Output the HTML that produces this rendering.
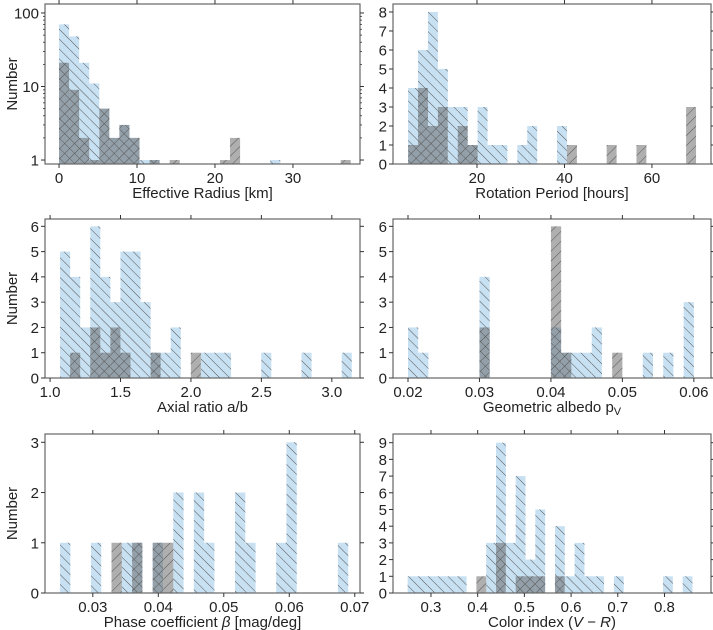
<!DOCTYPE html>
<html><head><meta charset="utf-8">
<style>
html,body{margin:0;padding:0;background:#fff;}
svg{display:block;font-family:"Liberation Sans","DejaVu Sans",sans-serif;}
</style></head>
<body>
<svg id="fig" width="713" height="630" viewBox="0 0 713 630" xmlns="http://www.w3.org/2000/svg">
<defs>
<pattern id="hb" patternUnits="userSpaceOnUse" width="7" height="7" patternTransform="rotate(-45)"><line x1="0" y1="0" x2="0" y2="7" stroke="#555" stroke-width="1"/></pattern>
<pattern id="hg" patternUnits="userSpaceOnUse" width="7" height="7" patternTransform="rotate(45)"><line x1="0" y1="0" x2="0" y2="7" stroke="#555" stroke-width="1"/></pattern>
</defs>
</svg>
<script>
// Panel 1: Effective Radius (log y)
const radiusBlue = [70,48,21,11,5,2,3,2,1,1,0,0,0,0,0,0,0,0,0,0,0,1,0,0,0,0,0,0,0];
const radiusGray = [21,9,2,1,5,2,3,2,0,1,0,1,0,0,0,0,1,2,0,0,0,0,0,0,0,0,0,0,1];
const radiusXTicks = [0,10,20,30];
const radiusYTicks = [1,10,100];
// Panel 2: Rotation Period
const periodBlue = [4,6,8,5,3,3,1,3,1,1,0,1,2,0,0,2,0,0,0,0,0,0,0,0,0,0,0,0,0];
const periodGray = [1,4,2,3,0,2,1,0,0,0,0,0,0,0,0,0,1,0,0,0,1,0,0,1,0,0,0,0,3];
const periodXTicks = [20,40,60];
const periodYTicks = [0,1,2,3,4,5,6,7,8];
// Panel 3: Axial ratio
const axialBlue = [5,4,2,6,4,3,5,5,3,1,1,2,0,0,1,1,1,0,0,0,1,0,0,0,1,0,0,0,1];
const axialGray = [0,1,0,2,1,2,1,0,0,1,0,0,0,1,0,0,0,0,0,0,0,0,0,0,0,0,0,0,0];
const axialXTicks = [1.0,1.5,2.0,2.5,3.0];
const axialYTicks = [0,1,2,3,4,5,6];
// Panel 4: Geometric albedo
const albedoBlue = [2,1,0,0,0,0,0,4,0,0,0,0,0,0,2,1,1,1,2,0,0,0,0,1,0,1,0,3];
const albedoGray = [0,0,0,0,0,0,0,2,0,0,0,0,0,0,6,1,0,0,0,0,1,0,0,0,0,0,0,0];
const albedoXTicks = [0.02,0.03,0.04,0.05,0.06];
const albedoYTicks = [0,1,2,3,4,5,6];
// Panel 5: Phase coefficient
const phaseBlue = [1,0,0,1,0,0,1,1,0,1,0,2,0,2,1,0,0,2,1,0,0,1,3,0,0,0,0,1];
const phaseGray = [0,0,0,0,0,1,0,1,0,1,1,0,0,0,0,0,0,0,0,0,0,0,0,0,0,0,0,0];
const phaseXTicks = [0.03,0.04,0.05,0.06,0.07];
const phaseYTicks = [0,1,2,3];
// Panel 6: Color index
const colorBlue = [1,1,1,1,1,1,0,0,3,9,3,7,2,5,0,4,1,3,1,1,0,1,0,0,0,0,1,0,1];
const colorGray = [0,0,0,0,0,0,0,1,0,3,0,1,1,1,0,1,0,0,0,0,0,0,0,0,0,0,0,0,0];
const colorXTicks = [0.3,0.4,0.5,0.6,0.7,0.8];
const colorYTicks = [0,1,2,3,4,5,6,7,8,9];

const NS = "http://www.w3.org/2000/svg";
const svg = document.getElementById('fig');
function mk(tag, attrs, parent){
  const e = document.createElementNS(NS, tag);
  for (const k in attrs) e.setAttribute(k, attrs[k]);
  (parent||svg).appendChild(e);
  return e;
}

const panels = [
 {name:'effective-radius', box:[45,4,360,164], xr:[-1.8,38.6], yr:[-0.054,2.122], log:true, lo:0, w:1.29,
  blue:radiusBlue, gray:radiusGray, xt:radiusXTicks, yt:radiusYTicks, fmt:v=>String(v), xl:'Effective Radius [km]', yl:true},
 {name:'rotation-period', box:[393,4,711,164], xr:[0.8,73.5], yr:[0,8.42], lo:4.25, w:2.27,
  blue:periodBlue, gray:periodGray, xt:periodXTicks, yt:periodYTicks, fmt:v=>String(v), xl:'Rotation Period [hours]'},
 {name:'axial-ratio', box:[45,219,360,378], xr:[0.964,3.2], yr:[0,6.29], lo:1.071, w:0.0714,
  blue:axialBlue, gray:axialGray, xt:axialXTicks, yt:axialYTicks, fmt:v=>v.toFixed(1), xl:'Axial ratio a/b', yl:true},
 {name:'geometric-albedo', box:[393,219,711,378], xr:[0.0179,0.0624], yr:[0,6.29], lo:0.02, w:0.04/28,
  blue:albedoBlue, gray:albedoGray, xt:albedoXTicks, yt:albedoYTicks, fmt:v=>v.toFixed(2), xl:'Geometric albedo p<tspan font-size="11" dy="3">V</tspan>'},
 {name:'phase-coefficient', box:[45,434,360,593], xr:[0.0227,0.0708], yr:[0,3.165], lo:0.025, w:0.044/28,
  blue:phaseBlue, gray:phaseGray, xt:phaseXTicks, yt:phaseYTicks, fmt:v=>v.toFixed(2), xl:'Phase coefficient <tspan font-style="italic">β</tspan> [mag/deg]', yl:true},
 {name:'color-index', box:[393,434,711,593], xr:[0.2187,0.8996], yr:[0,9.52], lo:0.25, w:0.61/29,
  blue:colorBlue, gray:colorGray, xt:colorXTicks, yt:colorYTicks, fmt:v=>v.toFixed(1), xl:'Color index (<tspan font-style="italic">V</tspan> − <tspan font-style="italic">R</tspan>)'}
];

panels.forEach(p=>{
  const [x0,y0,x1,y1] = p.box;
  const g = mk('g',{});
  
  
  const sx = v => x0 + (v-p.xr[0])/(p.xr[1]-p.xr[0])*(x1-x0);
  const sy = v => {
    const t = p.log ? Math.log10(v) : v;
    return y1 - (t-p.yr[0])/(p.yr[1]-p.yr[0])*(y1-y0);
  };
  const base = y1;
  [['blue',p.blue,'rgba(180,213,237,0.75)','url(#hb)'],['gray',p.gray,'rgba(95,95,95,0.5)','url(#hg)']].forEach(([nm,arr,fill,pat])=>{
    arr.forEach((c,i)=>{
      if(!c) return;
      const xa = sx(p.lo + i*p.w), xb = sx(p.lo + (i+1)*p.w), yt = sy(c);
      const r = mk('rect',{x:xa, y:yt, width:xb-xa, height:base-yt, fill:fill}, g);
      
      
      const h = mk('rect',{x:xa, y:yt, width:xb-xa, height:base-yt, fill:pat}, g);
      
      
    });
  });
  const frame = mk('rect',{x:x0,y:y0,width:x1-x0,height:y1-y0,fill:'none',stroke:'#666','stroke-width':1.2}, g);
  
  
  p.xt.forEach(v=>{
    const x = sx(v);
    mk('line',{x1:x,y1:y1,x2:x,y2:y1+4,stroke:'#333','stroke-width':1}, g);
    mk('line',{x1:x,y1:y0,x2:x,y2:y0-4,stroke:'#333','stroke-width':1}, g);
    const t = mk('text',{x:x,y:y1+19,'text-anchor':'middle','font-size':15,fill:'#222'}, g);
    t.textContent = p.fmt(v);
    
    
  });
  p.yt.forEach(v=>{
    const y = sy(v);
    mk('line',{x1:x0,y1:y,x2:x0-4,y2:y,stroke:'#333','stroke-width':1}, g);
    mk('line',{x1:x1,y1:y,x2:x1+4,y2:y,stroke:'#333','stroke-width':1}, g);
    const t = mk('text',{x:x0-6,y:y+5.5,'text-anchor':'end','font-size':15,fill:'#222'}, g);
    t.textContent = String(v);
    
    
  });
  if(p.log){
    [1,10].forEach(d=>{ for(let k=2;k<10;k++){ const v=d*k; if(Math.log10(v)>p.yr[1]) continue; const y=sy(v);
      mk('line',{x1:x0,y1:y,x2:x0-2,y2:y,stroke:'#333','stroke-width':0.8}, g);
      mk('line',{x1:x1,y1:y,x2:x1+2,y2:y,stroke:'#333','stroke-width':0.8}, g);} });
  }
  const xl = mk('text',{x:(x0+x1)/2,y:y1+34,'text-anchor':'middle','font-size':15,fill:'#222'}, g);
  xl.innerHTML = p.xl;
  
  
  if(p.yl){
    const cy=(y0+y1)/2;
    const yl = mk('text',{x:17,y:cy,'text-anchor':'middle','font-size':15,fill:'#222',transform:`rotate(-90 17 ${cy})`}, g);
    yl.textContent = 'Number';
    
    
  }
});
</script>
</body></html>
